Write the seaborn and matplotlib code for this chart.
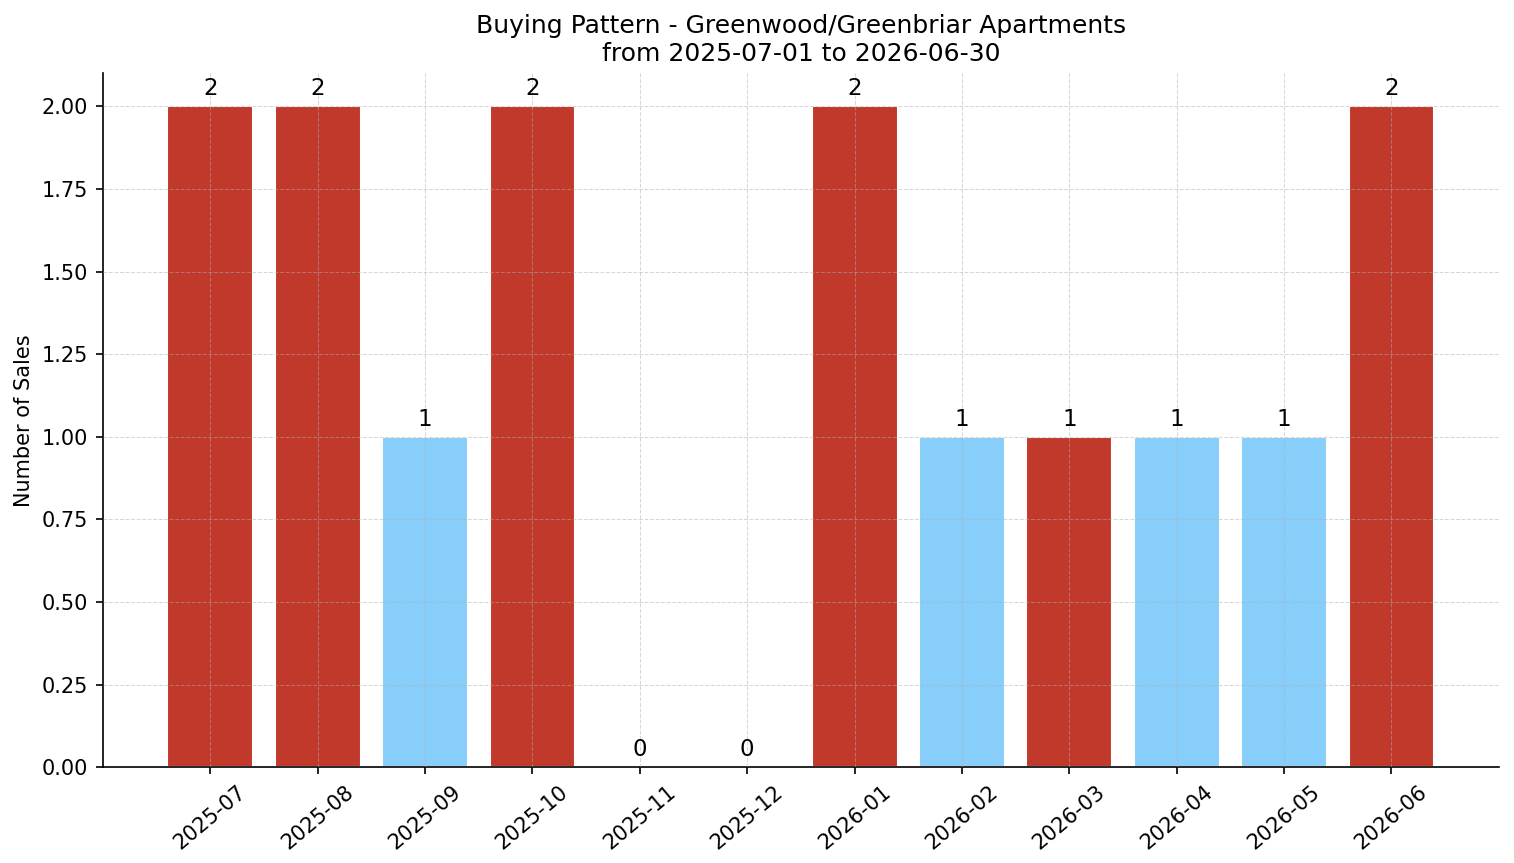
import matplotlib
matplotlib.use("Agg")
import matplotlib.pyplot as plt
import seaborn as sns

months = ["2025-07", "2025-08", "2025-09", "2025-10", "2025-11", "2025-12",
          "2026-01", "2026-02", "2026-03", "2026-04", "2026-05", "2026-06"]
sales = [2, 2, 1, 2, 0, 0, 2, 1, 1, 1, 1, 2]
bar_colors = ["#c0392b", "#c0392b", "#87cefa", "#c0392b", "#c0392b", "#c0392b",
              "#c0392b", "#87cefa", "#c0392b", "#87cefa", "#87cefa", "#c0392b"]
y_ticks = [0.0, 0.25, 0.5, 0.75, 1.0, 1.25, 1.5, 1.75, 2.0]

sns.set_style("ticks", {"text.color": "black", "axes.labelcolor": "black",
                        "xtick.color": "black", "ytick.color": "black",
                        "axes.edgecolor": "black"})
plt.rcParams["font.family"] = ["DejaVu Sans"]

fig, ax = plt.subplots(figsize=(1514 / 150, 863 / 150), dpi=150)
fig.subplots_adjust(left=0.068, right=0.990, top=0.915, bottom=0.111)

sns.barplot(x=months, y=sales, hue=months, palette=bar_colors, legend=False,
            saturation=1, width=0.8, ax=ax)

for container in ax.containers:
    ax.bar_label(container, padding=3, fontsize=11)

ax.set_xlim(-1, 12)
ax.set_ylim(0, 2.1)
ax.set_yticks(y_ticks)
ax.set_yticklabels([f"{t:.2f}" for t in y_ticks])
ax.tick_params(axis="x", rotation=40)
ax.set_xlabel("")
ax.set_ylabel("Number of Sales")
ax.set_title("Buying Pattern - Greenwood/Greenbriar Apartments\nfrom 2025-07-01 to 2026-06-30")

ax.set_axisbelow(False)
ax.grid(True, linestyle="--", linewidth=0.5, color="#b0b0b0", alpha=0.5)
sns.despine(ax=ax)

fig.savefig("out.png", dpi=150)
